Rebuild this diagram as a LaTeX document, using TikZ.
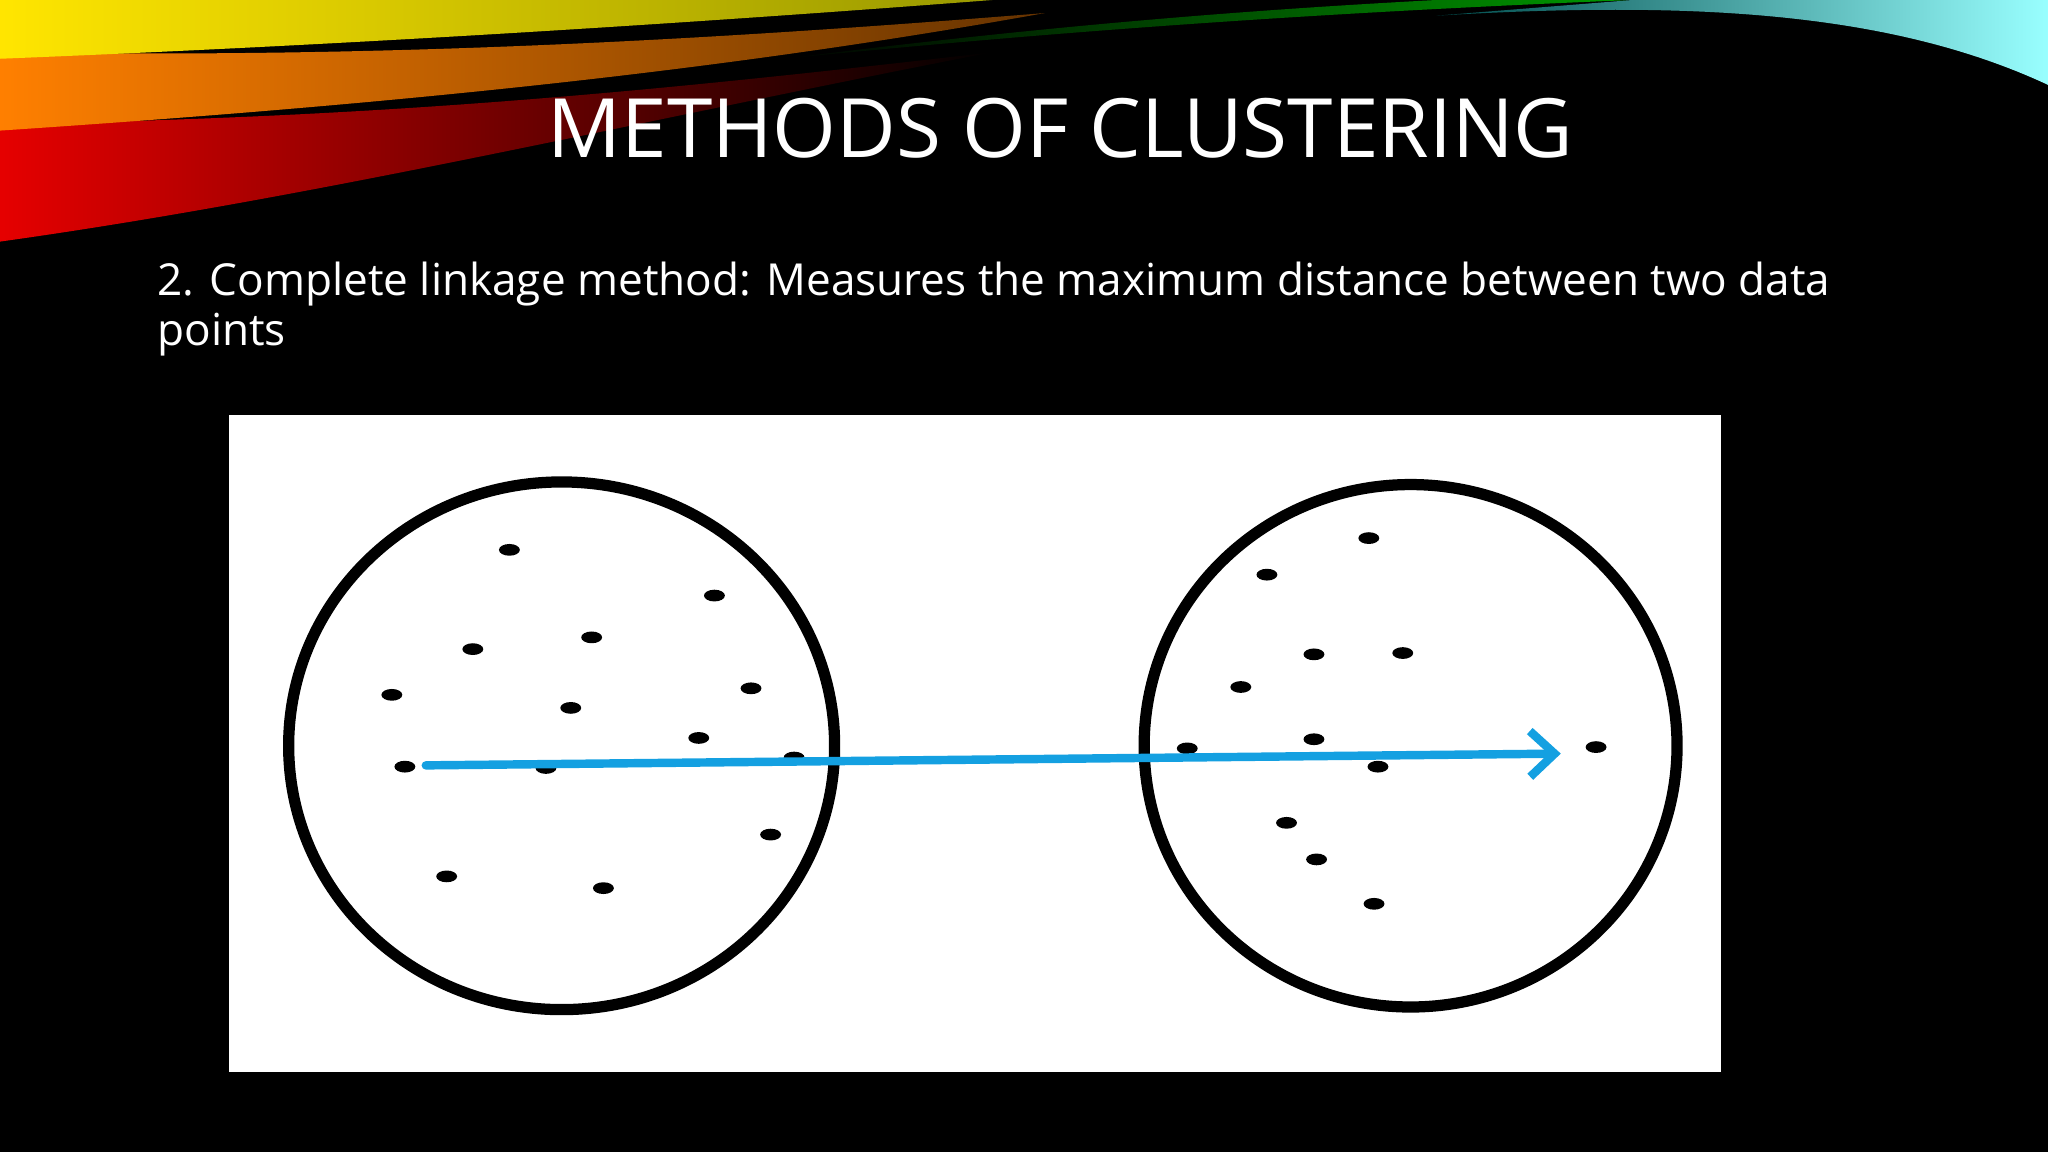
\documentclass[tikz,border=0pt]{standalone}
\usepackage{fontspec}
\usetikzlibrary{arrows.meta}
\setmainfont{Open Sans}
\begin{document}
\begin{tikzpicture}
\definecolor{arrowblue}{RGB}{20,160,225}
\tikzset{dot/.style={fill=black,draw=none},
  clus/.style={draw=black,line width=3.2pt},
  linkarrow/.style={draw=arrowblue,line width=2.4pt,line cap=round,-{Straight Barb[length=7pt,width=13pt]}}}
\fill[black] (0,0) rectangle (20.48,11.52);
\useasboundingbox (0,0) rectangle (20.48,11.52);
\begin{scope}[shift={(0cm,11.52cm)},x=0.01306cm,y=-0.01306cm]
% decorative swirl
\shade[left color=red!90!black,right color=black] (0,95) .. controls (300,90) and (500,70) .. (760,40) .. controls (500,90) and (250,150) .. (0,185) -- cycle;
\shade[left color=orange,right color=orange!40!black] (0,40) .. controls (300,45) and (550,30) .. (800,10) .. controls (550,55) and (300,80) .. (0,100) -- cycle;
\shade[left color=yellow!80!orange,right color=yellow!60!black] (0,0) -- (760,0) .. controls (500,20) and (250,35) .. (0,45) -- cycle;
\shade[left color=black,right color=green!60!black] (600,45) .. controls (800,20) and (950,8) .. (1100,0) -- (1250,0) .. controls (1000,10) and (800,25) .. (600,45) -- cycle;
\shade[left color=teal!60!black,right color=cyan!40!white] (1100,12) .. controls (1300,0) and (1450,10) .. (1568,65) -- (1568,0) -- (1250,0) .. controls (1200,4) and (1150,8) .. (1100,12) -- cycle;
\node[text=white,font=\fontsize{23.3}{28}\selectfont] (title) at (812,98) {METHODS OF CLUSTERING};
\node[text=white,anchor=north west,align=left,inner sep=0pt,font=\fontsize{12.55}{14.3}\selectfont] (body) at (120,200) {2. Complete linkage method: Measures the maximum distance between two data\\points};
\fill[white] (175,318) rectangle (1318,821);
\draw[clus] (430,571) ellipse [x radius=209,y radius=202];
\draw[clus] (1080,571) ellipse [x radius=204,y radius=200];
\foreach \p in {(390,421),(547,456),(362,497),(453,488),(300,532),(575,527),(437,542),(535,565),(310,587),(418,588),(608,580),(590,639),(342,671),(462,680),(1048,412),(970,440),(1006,501),(1074,500),(950,526),(1006,566),(909,573),(1055,587),(1222,572),(985,630),(1008,658),(1052,692)}
  \fill[dot] \p ellipse [x radius=8,y radius=4.5];
\coordinate (a) at (326,586);
\coordinate (b) at (1195,577);
\draw[linkarrow] (a) -- (b);
\end{scope}
\end{tikzpicture}
\end{document}
